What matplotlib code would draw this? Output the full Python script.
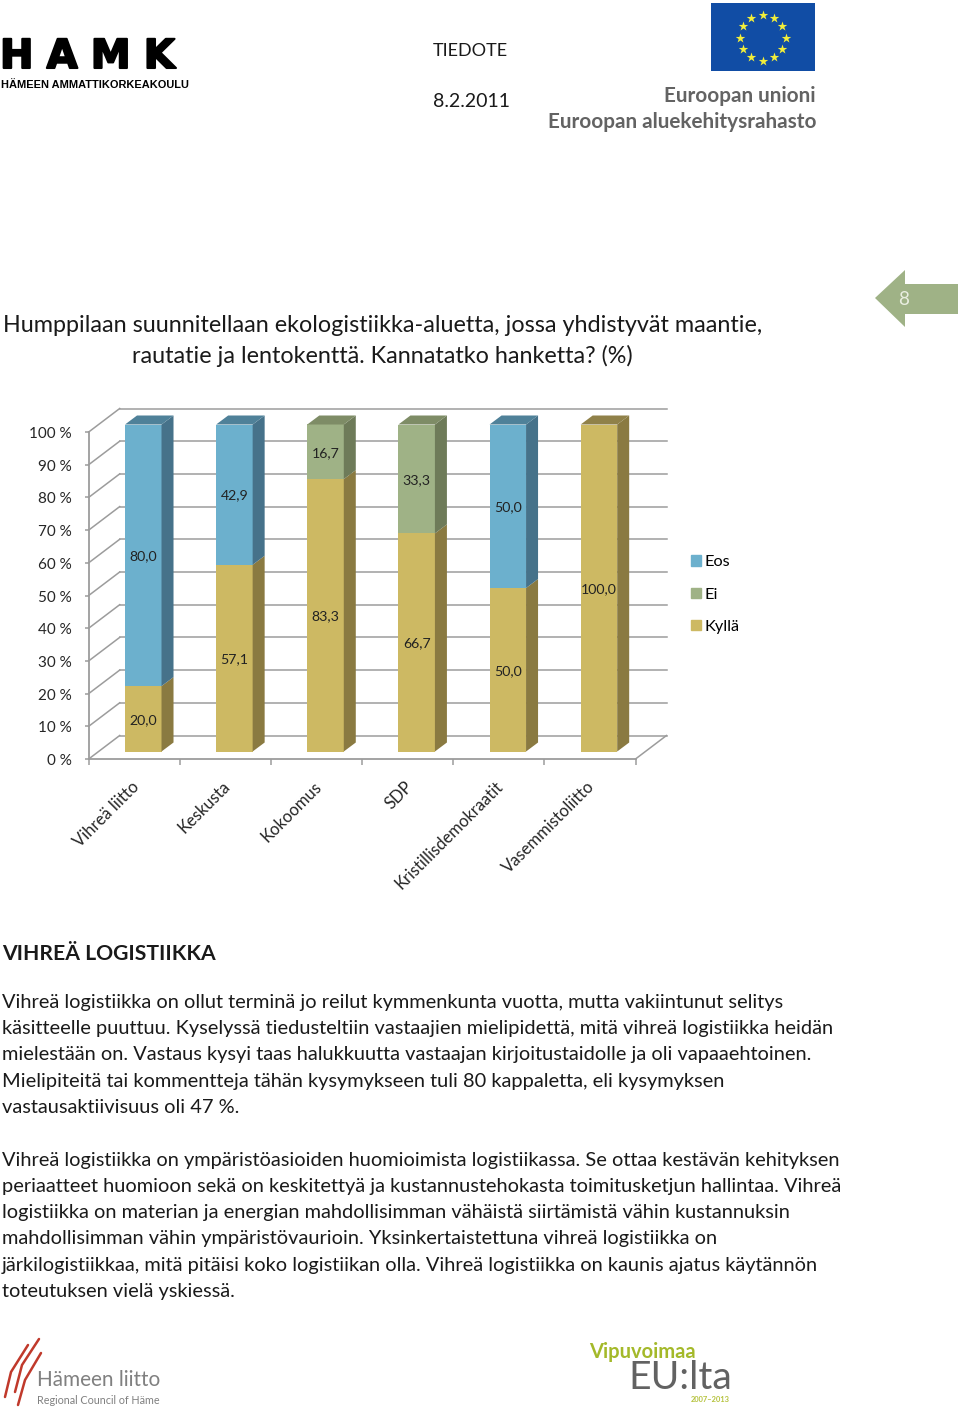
import math
import matplotlib
matplotlib.use("Agg")
import matplotlib.pyplot as plt
import matplotlib.patheffects as pe
from matplotlib.patches import Patch, Polygon, Rectangle
from matplotlib.transforms import ScaledTranslation

plt.rcParams['font.family'] = ['Lato', 'DejaVu Sans']

parties = ['Vihreä liitto', 'Keskusta', 'Kokoomus', 'SDP', 'Kristillisdemokraatit', 'Vasemmistoliitto']
kylla = [20.0, 57.1, 83.3, 66.7, 50.0, 100.0]
ei = [0, 0, 16.7, 33.3, 0, 0]
eos = [80.0, 42.9, 0, 0, 50.0, 0]
y_ticks = [0, 10, 20, 30, 40, 50, 60, 70, 80, 90, 100]

title_lines = ['Humppilaan suunnitellaan ekologistiikka-aluetta, jossa yhdistyvät maantie,',
               'rautatie ja lentokenttä. Kannatatko hanketta? (%)']
heading = 'VIHREÄ LOGISTIIKKA'
body_lines = [
    (1001, 'Vihreä logistiikka on ollut terminä jo reilut kymmenkunta vuotta, mutta vakiintunut selitys'),
    (1027, 'käsitteelle puuttuu. Kyselyssä tiedusteltiin vastaajien mielipidettä, mitä vihreä logistiikka heidän'),
    (1053, 'mielestään on. Vastaus kysyi taas halukkuutta vastaajan kirjoitustaidolle ja oli vapaaehtoinen.'),
    (1080, 'Mielipiteitä tai kommentteja tähän kysymykseen tuli 80 kappaletta, eli kysymyksen'),
    (1106, 'vastausaktiivisuus oli 47 %.'),
    (1159, 'Vihreä logistiikka on ympäristöasioiden huomioimista logistiikassa. Se ottaa kestävän kehityksen'),
    (1185, 'periaatteet huomioon sekä on keskitettyä ja kustannustehokasta toimitusketjun hallintaa. Vihreä'),
    (1211, 'logistiikka on materian ja energian mahdollisimman vähäistä siirtämistä vähin kustannuksin'),
    (1237, 'mahdollisimman vähin ympäristövaurioin. Yksinkertaistettuna vihreä logistiikka on'),
    (1264, 'järkilogistiikkaa, mitä pitäisi koko logistiikan olla. Vihreä logistiikka on kaunis ajatus käytännön'),
    (1290, 'toteutuksen vielä yskiessä.'),
]

W, H = 960, 1411
fig = plt.figure(figsize=(W / 100, H / 100), dpi=100, facecolor='white')

# page layer in pixel coordinates
page = fig.add_axes([0, 0, 1, 1])
page.set_xlim(0, W)
page.set_ylim(H, 0)
page.axis('off')


def put(x, y, s, px, **kw):
    kw.setdefault('color', '#1a1a1a')
    kw.setdefault('va', 'center')
    return page.text(x, y + 1.5, s, fontsize=px * 0.72, **kw)


# header logos
t = put(0, 55.5, 'H\u2004A\u2004M\u2004K', 40, family='DejaVu Sans', weight='bold', color='black')
t.set_path_effects([pe.withStroke(linewidth=1.5, foreground='black')])
put(1, 83, 'HÄMEEN AMMATTIKORKEAKOULU', 11, family='Liberation Sans', weight='bold', color='black')
put(433, 49, 'TIEDOTE', 18)
put(433, 100, '8.2.2011', 19.5)

page.add_patch(Rectangle((711, 3), 104, 68, color='#114da5', lw=0))
star_x = [762.5 + 23 * math.sin(math.radians(30 * h)) for h in range(12)]
star_y = [37.5 - 23 * math.cos(math.radians(30 * h)) for h in range(12)]
page.scatter(star_x, star_y, marker='*', s=52, color='#f2ee3a', linewidths=0)
put(816, 94, 'Euroopan unioni', 20.8, ha='right', weight='bold', color='#636363')
put(816, 121, 'Euroopan aluekehitysrahasto', 20.8, ha='right', weight='bold', color='#636363')

# page number arrow
page.add_patch(Polygon([(875, 298), (905, 270), (905, 284), (958, 284), (958, 314), (905, 314), (905, 327)],
                       closed=True, color='#9fb286', lw=0))
put(904, 298, '8', 19, ha='center', color='#e9eee0')

put(3, 324, title_lines[0], 23.4)
put(382.5, 354, title_lines[1], 23.4, ha='center')

put(2, 953, heading, 21.2, weight='bold')
for y, line in body_lines:
    put(2, y, line, 20.05)

# footer logos
for xs, ys in [((5, 11, 28), (1397, 1372, 1345)), ((15, 22, 39), (1392, 1365, 1339)), ((18, 25, 41), (1405, 1380, 1353))]:
    page.plot(xs, ys, color='#c0392b', lw=1.8, solid_capstyle='round')
put(37, 1378, 'Hämeen liitto', 20.8, color='#808080')
put(37, 1399, 'Regional Council of Häme', 10.8, color='#808080')
put(589, 1350, 'Vipuvoimaa', 20.2, weight='bold', color='#a4b92a')
put(628, 1376.5, 'EU:lta', 39, color='#626262')
put(691, 1398, '2007–2013', 7.5, color='#b5c23c', weight='bold')

# chart: front plane of the 3D box, x in categories, y in percent
left, right, top, bottom = 88.7, 635.5, 432.0, 759.0
ax = fig.add_axes([left / W, 1 - bottom / H, (right - left) / W, (bottom - top) / H])
ax.set_xlim(0, 6)
ax.set_ylim(0, 100)
ax.patch.set_alpha(0)

unit_x = (right - left) / 6
depth_x = 31 / unit_x
depth_y = 23.5 / 3.27
bar_dx = 9 / unit_x
bar_dy = 7.5 / 3.27
side_x = 12 / unit_x
side_y = 9 / 3.27
bar_w = 36.5 / unit_x
grid_col = '#9c9c9c'

# back wall and side wall
for v in y_ticks:
    ax.plot([depth_x, 6 + depth_x], [v + depth_y] * 2, color=grid_col, lw=1.1, clip_on=False, zorder=1)
    ax.plot([0, depth_x], [v, v + depth_y], color=grid_col, lw=1.1, clip_on=False, zorder=1)
ax.plot([6, 6 + depth_x], [0, depth_y], color=grid_col, lw=1.1, clip_on=False, zorder=1)

series = [(kylla, '#cdb963', '#8a7a41', '#908149'),
          (ei, '#9fb286', '#6e7b59', '#7e8c66'),
          (eos, '#6cb0cd', '#46728a', '#4f8199')]
cum = [0.0] * 6
for vals, front, side, lid in series:
    for i, v in enumerate(vals):
        if v == 0:
            continue
        x0 = i + 0.5 + bar_dx - bar_w / 2
        x1 = x0 + bar_w
        y0 = cum[i] + bar_dy
        y1 = y0 + v
        ax.bar(x0 + bar_w / 2, v, bar_w, bottom=y0, color=front, lw=0, zorder=3, clip_on=False)
        ax.fill([x1, x1 + side_x, x1 + side_x, x1], [y0, y0 + side_y, y1 + side_y, y1], color=side, lw=0, zorder=3, clip_on=False)
        if cum[i] + v >= 99.9:
            ax.fill([x0, x0 + side_x, x1 + side_x, x1], [y1, y1 + side_y, y1 + side_y, y1], color=lid, lw=0, zorder=3, clip_on=False)
        ax.text(x0 + bar_w / 2, y0 + v / 2 - 0.3, f'{v:.1f}'.replace('.', ','), ha='center', va='center',
                fontsize=10.2, color='#222222', zorder=4)
        cum[i] += v

for s in ['top', 'right']:
    ax.spines[s].set_visible(False)
for s in ['left', 'bottom']:
    ax.spines[s].set_color(grid_col)
    ax.spines[s].set_linewidth(1.3)
ax.set_yticks(y_ticks)
ax.set_yticklabels([f'{v} %' for v in y_ticks], fontsize=11, color='#262626')
ax.tick_params(axis='y', length=3, width=1.1, color=grid_col, pad=9)
nudge = ScaledTranslation(0, -0.5 / 100, fig.dpi_scale_trans)
for lab in ax.get_yticklabels():
    lab.set_transform(lab.get_transform() + nudge)
ax.set_xticks(range(7))
ax.set_xticklabels([])
ax.tick_params(axis='x', which='major', length=4.5, width=1.1, color=grid_col)
ax.set_xticks([i + 0.5 - 3.5 / unit_x for i in range(6)], minor=True)
ax.set_xticklabels(parties, minor=True, rotation=45, ha='right', va='top', rotation_mode='anchor',
                   fontsize=12, color='#262626')
ax.tick_params(axis='x', which='minor', length=0, pad=14)

handles = [Patch(color='#6cb0cd', label='Eos'), Patch(color='#9fb286', label='Ei'), Patch(color='#cdb963', label='Kyllä')]
ax.legend(handles=handles, loc='center left', bbox_to_anchor=(691 / W, 1 - 594.5 / H), bbox_transform=fig.transFigure,
          frameon=False, fontsize=11.7, handlelength=0.6, handleheight=0.6, handletextpad=0.24,
          labelspacing=1.12, borderpad=0, borderaxespad=0)

fig.savefig('out.png', dpi=100)
